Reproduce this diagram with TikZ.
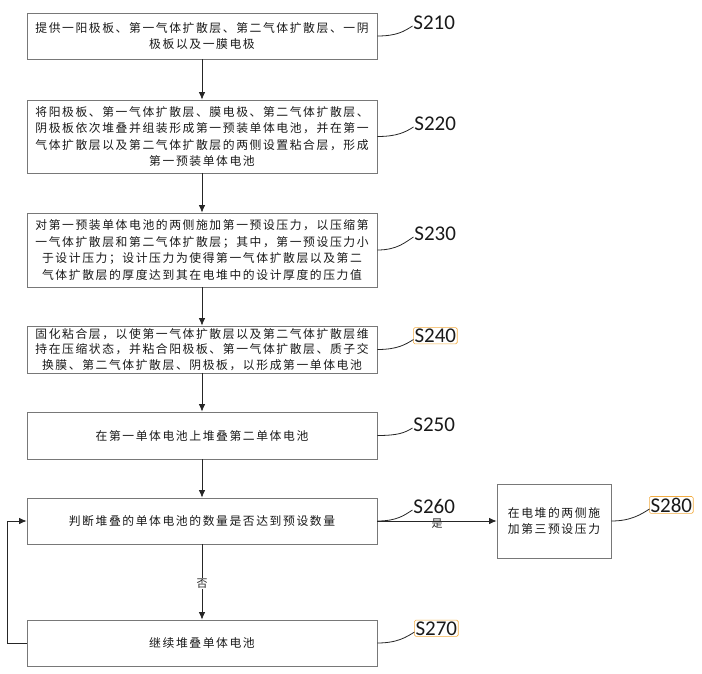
\documentclass[tikz,border=0pt]{standalone}
\usepackage{fontspec}
\setmainfont{Carlito}
\newfontfamily\cjk[LetterSpace=13.5]{Noto Sans CJK SC}
\newfontfamily\cjklab{Noto Sans CJK SC}
\usetikzlibrary{arrows.meta}
\definecolor{boxgray}{RGB}{120,120,120}
\definecolor{hlorange}{RGB}{242,172,66}
\begin{document}
\begin{tikzpicture}[x=1pt,y=-1pt,
  box/.style={draw=boxgray, line width=0.8pt, minimum width=350pt, inner sep=0pt,
    align=center, text=black!90, font=\cjk\fontsize{11.8}{16.5}\selectfont},
  sbox/.style={box, minimum width=114pt},
  slab/.style={font=\fontsize{21}{21}\selectfont, inner sep=1.2pt, anchor=base west, text=black!90},
  hl/.style={draw=hlorange, line width=0.6pt, rounded corners=1.5pt},
  arr/.style={draw=black!85, line width=0.8pt, -{Latex[length=7.5pt,width=6.5pt]}},
  lead/.style={draw=black!85, line width=0.8pt},
  yn/.style={font=\cjklab\fontsize{11}{11}\selectfont, text=black!85, inner sep=1pt}
]
\useasboundingbox (0,0) rectangle (702,673);

\node[box, minimum height=46pt] (b1) at (202,36)
  {提供一阳极板、第一气体扩散层、第二气体扩散层、一阴\\极板以及一膜电极};
\node[box, minimum height=73pt] (b2) at (202,136.5)
  {将阳极板、第一气体扩散层、膜电极、第二气体扩散层、\\阴极板依次堆叠并组装形成第一预装单体电池，并在第一\\气体扩散层以及第二气体扩散层的两侧设置粘合层，形成\\第一预装单体电池};
\node[box, minimum height=74pt] (b3) at (202,250)
  {对第一预装单体电池的两侧施加第一预设压力，以压缩第\\一气体扩散层和第二气体扩散层；其中，第一预设压力小\\于设计压力；设计压力为使得第一气体扩散层以及第二\\气体扩散层的厚度达到其在电堆中的设计厚度的压力值};
\node[box, minimum height=47pt, font=\cjk\fontsize{11.8}{15.5}\selectfont] (b4) at (202,349.5)
  {固化粘合层，以使第一气体扩散层以及第二气体扩散层维\\持在压缩状态，并粘合阳极板、第一气体扩散层、质子交\\换膜、第二气体扩散层、阴极板，以形成第一单体电池};
\node[box, minimum height=47pt] (b5) at (202,435.5)
  {在第一单体电池上堆叠第二单体电池};
\node[box, minimum height=46pt] (b6) at (202,521)
  {判断堆叠的单体电池的数量是否达到预设数量};
\node[box, minimum height=46pt] (b7) at (202,643)
  {继续堆叠单体电池};
\node[sbox, minimum height=74pt] (b8) at (554,521)
  {在电堆的两侧施\\加第三预设压力};

\node[slab] (l1) at (412,29) {S210};
\node[slab] (l2) at (413,130) {S220};
\node[slab] (l3) at (413,240) {S230};
\node[slab, hl] (l4) at (413,342.5) {S240};
\node[slab] (l5) at (412,431) {S250};
\node[slab] (l6) at (412,513) {S260};
\node[slab, hl] (l7) at (414,635) {S270};
\node[slab, hl] (l8) at (649,512) {S280};

\foreach \b/\l in {b1/l1,b2/l2,b3/l3,b4/l4,b5/l5,b6/l6,b7/l7,b8/l8}
  \draw[lead] (\b.east) .. controls +(20,0) and +(-8,5) .. ([xshift=0.5pt,yshift=3pt]\l.base west);

\draw[arr] (b1.south) -- (b2.north);
\draw[arr] (b2.south) -- (b3.north);
\draw[arr] (b3.south) -- (b4.north);
\draw[arr] (b4.south) -- (b5.north);
\draw[arr] (b5.south) -- (b6.north);
\draw[arr] (b6.south) -- node[yn, fill=white, pos=0.52] (no) {否} (b7.north);
\draw[arr] (b6.east) -- node[yn, pos=0.5, yshift=-3pt] (yes) {是} (b8.west);
\draw[arr] (b7.west) -- ++(-19,0) |- (b6.west);
\end{tikzpicture}
\end{document}
